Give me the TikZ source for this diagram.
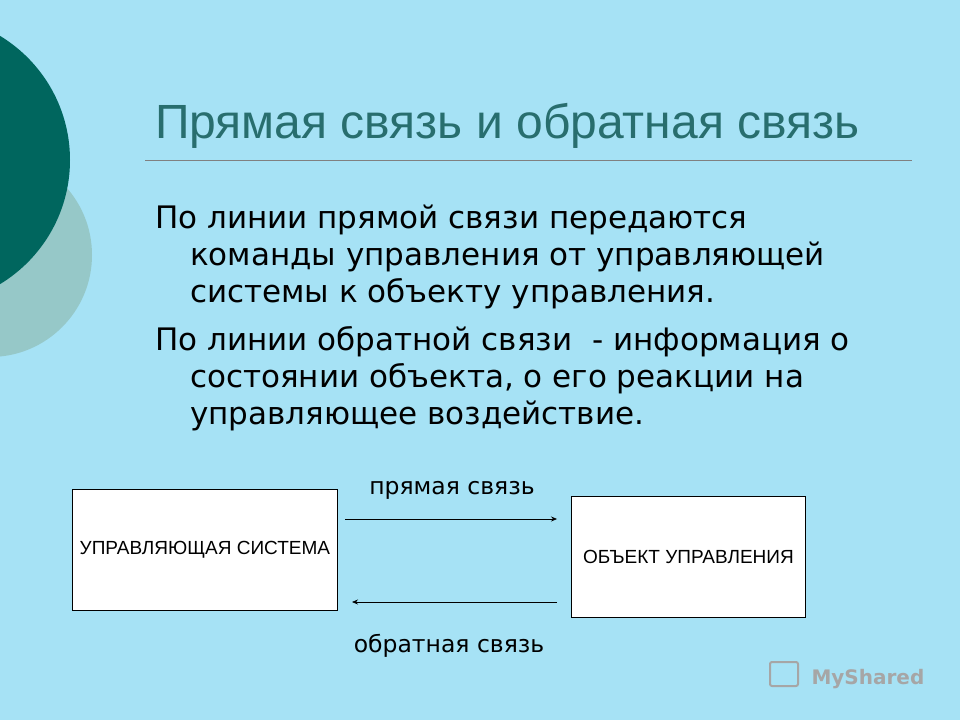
\documentclass[tikz,border=0pt]{standalone}
\usepackage{fontspec}
\setmainfont{DejaVu Sans}
\newfontfamily\arialf{Liberation Sans}
\usetikzlibrary{arrows.meta}
\definecolor{bg}{RGB}{166,226,245}
\definecolor{darkc}{RGB}{0,102,94}
\definecolor{lightc}{RGB}{150,200,200}
\definecolor{titlec}{RGB}{40,110,110}
\begin{document}
\begin{tikzpicture}[x=1pt,y=-1pt,
  body/.style={anchor=base west,font=\fontsize{31}{34}\selectfont,inner sep=0},
  box/.style={draw,fill=white,line width=0.8pt,anchor=north west},
  small/.style={font=\arialf\fontsize{19}{21}\selectfont},
  lab/.style={font=\fontsize{23.5}{26}\selectfont,anchor=base},
  arr/.style={-{Stealth[length=6pt,width=5pt]},line width=0.7pt}]
\fill[bg] (0,0) rectangle (960,720);
\useasboundingbox (0,0) rectangle (960,720);
\fill[lightc] (-10,255) circle (102);
\fill[darkc] (-75,160) circle (145);
\node[anchor=base west,inner sep=0,text=titlec,font=\arialf\fontsize{48}{50}\selectfont] (title) at (155,138) {Прямая связь и обратная связь};
\draw[gray,line width=0.8pt] (145,160) -- (912,160);
\node[body] (p1) at (155,228) {По линии прямой связи передаются};
\node[body] (p2) at (190,265) {команды управления от управляющей};
\node[body] (p3) at (190,302) {системы к объекту управления.};
\node[body] (p4) at (155,350) {По линии обратной связи\ \ - информация о};
\node[body] (p5) at (190,387) {состоянии объекта, о его реакции на};
\node[body] (p6) at (190,424) {управляющее воздействие.};
\node[box,minimum width=265,minimum height=121] (ctl) at (72,489) {};
\node[small] at (ctl.center) {УПРАВЛЯЮЩАЯ СИСТЕМА};
\node[box,minimum width=234,minimum height=121] (obj) at (571,496) {};
\node[small] at (obj.center) {ОБЪЕКТ УПРАВЛЕНИЯ};
\coordinate (a1) at (345,519); \coordinate (a2) at (557,519);
\coordinate (b1) at (557,602); \coordinate (b2) at (352,602);
\draw[arr] (a1) -- (a2);
\draw[arr] (b1) -- (b2);
\node[lab] (l1) at (452,494) {прямая связь};
\node[lab] (l2) at (449,652) {обратная связь};
\node[anchor=base west,text=gray!70,font=\fontsize{20}{22}\selectfont\bfseries] (logo) at (808,684) {MyShared};
\draw[gray!70,line width=2pt,rounded corners=2] (770,662) rectangle (798,686);
\end{tikzpicture}
\end{document}
